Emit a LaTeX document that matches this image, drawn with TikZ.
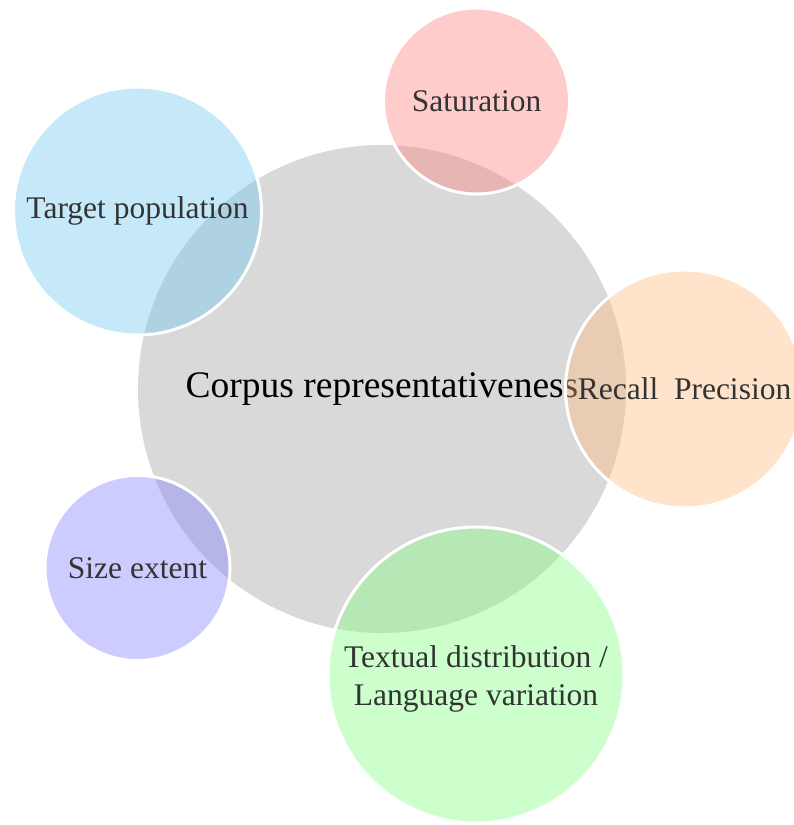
\documentclass[tikz,border=0pt]{standalone}
\usepackage{fontspec}
\setmainfont{Liberation Serif}
\definecolor{hubgray}{RGB}{217,217,217}
\definecolor{labelgray}{RGB}{51,51,51}
\definecolor{cpink}{RGB}{255,128,128}
\definecolor{cblue}{RGB}{112,200,240}
\definecolor{corange}{RGB}{255,185,125}
\definecolor{cpurple}{RGB}{128,128,255}
\definecolor{cgreen}{RGB}{128,255,128}
\begin{document}
\begin{tikzpicture}[x=1pt,y=-1pt,
  hub/.style={circle, fill=hubgray, inner sep=0pt, minimum size=#1,
    font=\fontsize{37.5}{42}\selectfont, text=black},
  petal/.style={circle, draw=white, line width=3pt, fill opacity=0.4,
    draw opacity=1, text opacity=1, inner sep=0pt, minimum size=#1,
    font=\fontsize{31.5}{37.5}\selectfont, text=labelgray, align=center},
  petaltext/.style={inner sep=0pt, font=\fontsize{31.5}{37.5}\selectfont,
    text=labelgray, align=center}]
  \useasboundingbox (0,0) rectangle (793,825);
  % central concept
  \node[hub=488pt] (core) at (382,389) {Corpus representativeness};
  % surrounding aspects
  \node[petal=186pt, fill=cpink] (sat) at (476.5,101) {Saturation};
  \node[petal=248pt, fill=cblue] (target) at (137.5,211) {Target population};
  \node[petal=238pt, fill=corange] (recall) at (684.5,389) {Recall\ \ Precision};
  \node[petal=185pt, fill=cpurple] (size) at (137.5,568) {Size extent};
  \node[petal=296pt, fill=cgreen] (textual) at (476,675) {};
  \node[petaltext] (textual-label) at ([yshift=-4pt]textual.center)
    {Textual distribution /\\Language variation};
\end{tikzpicture}
\end{document}
